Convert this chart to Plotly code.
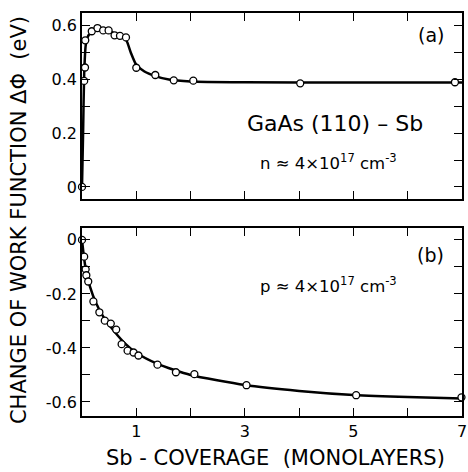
import plotly.graph_objects as go

# Panel (a): n-type, measured points
a_x = [0.0, 0.04, 0.055, 0.06, 0.18, 0.285, 0.39, 0.49, 0.60, 0.70, 0.81, 1.0, 1.35, 1.69, 2.05, 4.02, 6.87]
a_y = [0.0, 0.395, 0.445, 0.546, 0.58, 0.592, 0.583, 0.583, 0.565, 0.563, 0.557, 0.444, 0.417, 0.397, 0.396, 0.386, 0.39]
# Panel (a): drawn curve
a_cx = [0.0, 0.02, 0.04, 0.07, 0.12, 0.2, 0.3, 0.45, 0.6, 0.75, 0.82, 0.9, 1.0, 1.15, 1.35, 1.6, 2.0, 3.0, 5.0, 7.0]
a_cy = [0.0, 0.2, 0.42, 0.53, 0.565, 0.58, 0.588, 0.585, 0.572, 0.558, 0.545, 0.5, 0.455, 0.43, 0.413, 0.4, 0.393, 0.39, 0.389, 0.389]

# Panel (b): p-type, measured points
b_x = [0.0, 0.04, 0.067, 0.08, 0.115, 0.21, 0.32, 0.42, 0.53, 0.63, 0.73, 0.84, 0.95, 1.04, 1.39, 1.73, 2.07, 3.03, 5.05, 6.99]
b_y = [0.0, -0.062, -0.109, -0.131, -0.154, -0.228, -0.268, -0.299, -0.31, -0.332, -0.386, -0.41, -0.417, -0.428, -0.462, -0.49, -0.497, -0.538, -0.575, -0.583]
# Panel (b): drawn curve
b_cx = [0.0, 0.04, 0.08, 0.15, 0.25, 0.4, 0.6, 0.8, 1.0, 1.4, 2.0, 3.0, 4.0, 5.0, 6.0, 7.0]
b_cy = [0.0, -0.07, -0.12, -0.175, -0.23, -0.287, -0.34, -0.385, -0.418, -0.46, -0.5, -0.537, -0.559, -0.574, -0.582, -0.587]

x_ticks = [1, 3, 5, 7]
x_labels = ["1", "3", "5", "7"]
ya_ticks = [0, 0.2, 0.4, 0.6]
ya_labels = ["0", "0.2", "0.4", "0.6"]
yb_ticks = [0, -0.2, -0.4, -0.6]
yb_labels = ["0", "-0.2", "-0.4", "-0.6"]

line_style = dict(color="black", width=2.5, shape="spline", smoothing=0.6)
marker_style = dict(symbol="circle", size=7, color="white", line=dict(color="black", width=1.3))

fig = go.Figure()
fig.add_trace(go.Scatter(x=a_cx, y=a_cy, mode="lines", line=line_style, xaxis="x", yaxis="y", showlegend=False, cliponaxis=False))
fig.add_trace(go.Scatter(x=a_x, y=a_y, mode="markers", marker=marker_style, xaxis="x", yaxis="y", showlegend=False, cliponaxis=False))
fig.add_trace(go.Scatter(x=b_cx, y=b_cy, mode="lines", line=line_style, xaxis="x2", yaxis="y2", showlegend=False, cliponaxis=False))
fig.add_trace(go.Scatter(x=b_x, y=b_y, mode="markers", marker=marker_style, xaxis="x2", yaxis="y2", showlegend=False, cliponaxis=False))

tick_minor = dict(ticks="inside", ticklen=8, tickwidth=1.3, tickcolor="black")
axis_common = dict(showgrid=False, zeroline=False, showline=True, linecolor="black", linewidth=1.5,
                   mirror="ticks", ticks="inside", ticklen=8, tickwidth=1.3, tickcolor="black",
                   tickfont=dict(size=16, color="black"))

fig.update_layout(
    width=468, height=472,
    margin=dict(l=82, r=1, t=13, b=56),
    paper_bgcolor="white", plot_bgcolor="white",
    font=dict(family="DejaVu Sans", color="black"),
    xaxis=dict(axis_common, domain=[0, 1], range=[0, 7], tickvals=x_ticks, showticklabels=False, anchor="y",
               minor=dict(tick_minor, dtick=1, tick0=0)),
    yaxis=dict(axis_common, domain=[0.5385, 1], range=[-0.045, 0.648], tickvals=ya_ticks, ticktext=ya_labels,
               minor=dict(tick_minor, dtick=0.1, tick0=0), anchor="x"),
    xaxis2=dict(axis_common, domain=[0, 1], range=[0, 7], tickvals=x_ticks, ticktext=x_labels, anchor="y2",
                ticklabeloverflow="allow", minor=dict(tick_minor, dtick=1, tick0=0)),
    yaxis2=dict(axis_common, domain=[0, 0.4665], range=[-0.652, 0.044], tickvals=yb_ticks, ticktext=yb_labels,
                minor=dict(tick_minor, dtick=0.1, tick0=0), anchor="x2"),
)

ann = [
    dict(text="CHANGE OF WORK FUNCTION \u0394\u03a6  (eV)", x=-0.166, y=0.486, textangle=-90, size=21),
    dict(text="Sb - COVERAGE  (MONOLAYERS)", x=0.509, y=-0.104, textangle=0, size=21),
    dict(text="(a)", x=0.918, y=0.945, textangle=0, size=19),
    dict(text="GaAs (110) \u2013 Sb", x=0.665, y=0.727, textangle=0, size=22),
    dict(text="n \u2248 4\u00d710<sup>17</sup> cm<sup>-3</sup>", x=0.648, y=0.63, textangle=0, size=16.5),
    dict(text="(b)", x=0.918, y=0.399, textangle=0, size=19),
    dict(text="p \u2248 4\u00d710<sup>17</sup> cm<sup>-3</sup>", x=0.648, y=0.325, textangle=0, size=16.5),
]
for a in ann:
    fig.add_annotation(text=a["text"], x=a["x"], y=a["y"], xref="paper", yref="paper",
                       xanchor="center", yanchor="middle", textangle=a["textangle"], showarrow=False,
                       font=dict(size=a["size"], color="black"))

fig.write_html("out.html", config={"displayModeBar": False},
               post_script="document.body.style.margin='0';document.body.style.overflow='hidden';")
